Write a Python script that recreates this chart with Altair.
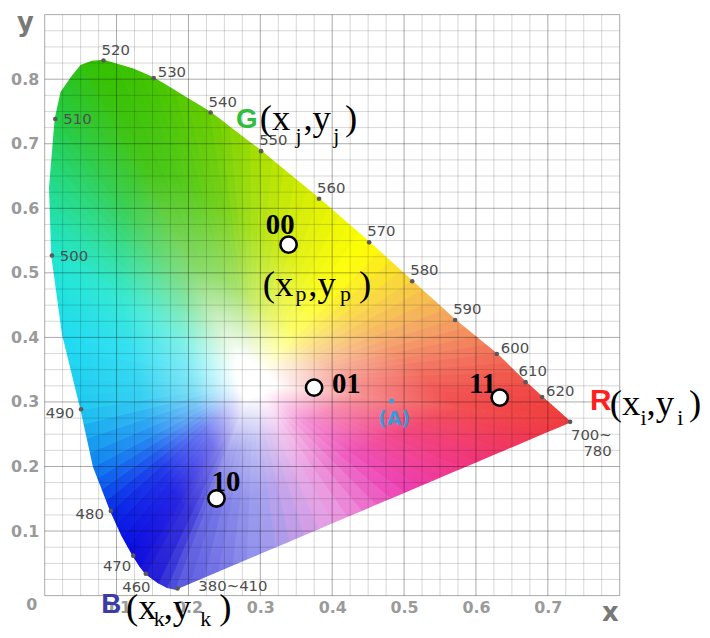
import math
import altair as alt
import pandas as pd

# ---------------- values ----------------
# labelled points on the spectral locus (wavelength, nm)
dot_label = ["380~410", "460", "470", "480", "490", "500", "510", "520", "530",
             "540", "550", "560", "570", "580", "590", "600", "610", "620", "700~\n780"]
dot_x = [0.1848, 0.1407, 0.1232, 0.0920, 0.0506, 0.0101, 0.0148, 0.0818, 0.1517,
         0.2308, 0.3011, 0.3817, 0.4514, 0.5113, 0.5710, 0.6290, 0.6690, 0.6920, 0.7310]
dot_y = [0.0112, 0.0338, 0.0619, 0.1310, 0.2887, 0.5268, 0.7383, 0.8289, 0.8017,
         0.7484, 0.6885, 0.6148, 0.5472, 0.4869, 0.4270, 0.3743, 0.3307, 0.3076, 0.2692]

# outline of the coloured region (spectral locus + purple line)
edge_x = [0.182, 0.170, 0.158, 0.1407, 0.133, 0.1232, 0.108, 0.092, 0.068, 0.0506,
          0.025, 0.0101, 0.007, 0.0148, 0.023, 0.039, 0.051, 0.066, 0.0818, 0.122,
          0.1517, 0.2308, 0.3011, 0.3817, 0.4514, 0.5113, 0.5710, 0.6290, 0.6690, 0.6920,
          0.705, 0.716, 0.726, 0.7310, 0.680, 0.600, 0.500, 0.400, 0.300]
edge_y = [0.010, 0.013, 0.020, 0.0338, 0.045, 0.0619, 0.092, 0.131, 0.200, 0.2887,
          0.405, 0.5268, 0.632, 0.7383, 0.780, 0.8055, 0.8215, 0.8275, 0.8289, 0.816,
          0.8017, 0.7484, 0.6885, 0.6148, 0.5472, 0.4869, 0.4270, 0.3743, 0.3307, 0.3076,
          0.295, 0.284, 0.274, 0.2692, 0.2451, 0.2073, 0.1601, 0.1129, 0.0657]
# colour seen along that outline (style)
edge_color = ["#5656e0", "#4040dc", "#2a24d8", "#1c18d8", "#1410dc", "#0c0ce0", "#0a14e4",
              "#0828e8", "#1080f0", "#20c8f0", "#20dcf0", "#20e6d0", "#22dc90", "#24cc48",
              "#28c630", "#2cc420", "#30c210", "#34c000", "#34c000", "#3cc200", "#44c400",
              "#68cc00", "#a8e000", "#e0f000", "#ffff00", "#f8d040", "#f4a060", "#f27058",
              "#f05048", "#f04444", "#f04040", "#f03e3e", "#f03c3c", "#f03c3c", "#f03850",
              "#f03478", "#ee40b4", "#eaa0e4", "#9898ee"]
white_x, white_y = 0.29, 0.33

# code points
code_label = ["00", "01", "10", "11"]
code_x = [0.3393, 0.3748, 0.2390, 0.6331]
code_y = [0.5437, 0.3221, 0.1505, 0.3067]

# illuminant A
illum_label = ["(A)"]
illum_x = [0.4828]
illum_y = [0.3015]

# coordinate annotations
anno_key = ["G", "P", "B", "R"]
anno_sub = ["j", "p", "k", "i"]
anno_x = [0.2993, 0.3034, 0.1131, 0.7862]
anno_y = [0.7216, 0.4639, -0.0369, 0.2802]

x_tick_values = [0.1, 0.2, 0.3, 0.4, 0.5, 0.6, 0.7]
y_tick_values = [0.1, 0.2, 0.3, 0.4, 0.5, 0.6, 0.7, 0.8]
major_x = [round(0.1 * i, 1) for i in range(9)]
major_y = [round(0.1 * i, 1) for i in range(10)]
minor_x = [round(0.025 * i, 3) for i in range(33) if i % 4]
minor_y = [round(0.025 * i, 3) for i in range(37) if i % 4]

# ---------------- helpers ----------------
X_SCALE = alt.Scale(domain=[0.0, 0.8], nice=False, zero=False)
Y_SCALE = alt.Scale(domain=[0.0, 0.9], nice=False, zero=False)

TICK_COLOR = "#9a9a9a"
AXIS_STYLE = dict(labelFont="DejaVu Sans", labelFontWeight="bold", labelFontSize=16,
                  labelColor=TICK_COLOR, ticks=False, domain=False, grid=False,
                  format=".1f", titleFont="DejaVu Sans", titleFontWeight="bold",
                  titleFontSize=26, titleColor="#787878", titleAlign="center",
                  titleBaseline="alphabetic", labelOverlap=False)
X_AXIS = alt.Axis(values=x_tick_values, labelPadding=4, labelAngle=0, title="x",
                  titleX=570, titleY=25, **AXIS_STYLE)
Y_AXIS = alt.Axis(values=y_tick_values, labelPadding=6, title="y", titleAngle=0,
                  titleX=-20, titleY=16, **AXIS_STYLE)


def X(field="x"):
    return alt.X(f"{field}:Q", scale=X_SCALE, axis=X_AXIS)


def Y(field="y"):
    return alt.Y(f"{field}:Q", scale=Y_SCALE, axis=Y_AXIS)


def rgb(h):
    h = h.lstrip("#")
    return [int(h[k:k + 2], 16) for k in (0, 2, 4)]


def hexc(c):
    return "#%02x%02x%02x" % tuple(max(0, min(255, int(round(v)))) for v in c)


def lerp_color(a, b, t):
    ca, cb = rgb(a), rgb(b)
    return hexc([ca[k] + (cb[k] - ca[k]) * t for k in range(3)])


def mix_white(c, t):
    return hexc([255 + (v - 255) * t for v in rgb(c)])


STOPS = [(0.0, 0.0), (0.08, 0.0), (0.35, 0.58), (0.65, 0.9), (1.0, 1.0)]


def tri_gradient(p0, p1, p2, color):
    xs = [p0[0], p1[0], p2[0]]
    ys = [p0[1], p1[1], p2[1]]
    xmin, xmax, ymin, ymax = min(xs), max(xs), min(ys), max(ys)

    def n(p):
        return ((p[0] - xmin) / (xmax - xmin), (ymax - p[1]) / (ymax - ymin))

    a, b, c = n(p0), n(p1), n(p2)
    dx, dy = c[0] - b[0], c[1] - b[1]
    t = ((a[0] - b[0]) * dx + (a[1] - b[1]) * dy) / (dx * dx + dy * dy)
    f = (b[0] + t * dx, b[1] + t * dy)
    return {
        "gradient": "linear",
        "x1": round(a[0], 4), "y1": round(a[1], 4),
        "x2": round(f[0], 4), "y2": round(f[1], 4),
        "stops": [{"offset": o, "color": mix_white(color, m)} for o, m in STOPS],
    }


layers = []

# ---------------- colour fill (fan of gradient triangles) ----------------
pts = []
n_edge = len(edge_x)
for i in range(n_edge):
    j = (i + 1) % n_edge
    x0, y0, x1, y1 = edge_x[i], edge_y[i], edge_x[j], edge_y[j]
    lpx = math.hypot((x1 - x0) * 725, (y1 - y0) * 651)
    nseg = max(1, math.ceil(lpx / 16))
    for s in range(nseg):
        t = s / nseg
        pts.append((x0 + (x1 - x0) * t, y0 + (y1 - y0) * t,
                    lerp_color(edge_color[i], edge_color[j], t)))

W = (white_x, white_y)
for k in range(len(pts)):
    p1 = pts[k]
    p2 = pts[(k + 1) % len(pts)]
    col = lerp_color(p1[2], p2[2], 0.5)
    g = tri_gradient(W, p1, p2, col)
    tri = pd.DataFrame({"x": [W[0], p1[0], p2[0]], "y": [W[1], p1[1], p2[1]], "i": [0, 1, 2]})
    layers.append(
        alt.Chart(tri).mark_line(fill=g, stroke=g, strokeWidth=1.4, strokeJoin="round")
        .encode(x=X(), y=Y(), order=alt.Order("i:Q"))
    )

# ---------------- grid ----------------
layers.append(alt.Chart(pd.DataFrame({"v": minor_x})).mark_rule(color="black", opacity=0.16, strokeWidth=1)
              .encode(x=X("v")))
layers.append(alt.Chart(pd.DataFrame({"v": minor_y})).mark_rule(color="black", opacity=0.16, strokeWidth=1)
              .encode(y=Y("v")))
layers.append(alt.Chart(pd.DataFrame({"v": major_x})).mark_rule(color="black", opacity=0.34, strokeWidth=1)
              .encode(x=X("v")))
layers.append(alt.Chart(pd.DataFrame({"v": major_y})).mark_rule(color="black", opacity=0.34, strokeWidth=1)
              .encode(y=Y("v")))

# origin label "0"
origin = pd.DataFrame({"x": [0.0], "y": [0.0], "t": ["0"]})
layers.append(alt.Chart(origin).mark_text(font="DejaVu Sans", fontWeight="bold", fontSize=16,
                                          color=TICK_COLOR, dx=-13, dy=10, baseline="middle")
              .encode(x=X(), y=Y(), text="t:N"))

# ---------------- wavelength dots and labels ----------------
dots = pd.DataFrame({"x": dot_x, "y": dot_y, "label": dot_label})
layers.append(alt.Chart(dots).mark_circle(size=22, color="#5a5a5a", opacity=1).encode(x=X(), y=Y()))

WL_TEXT = dict(font="DejaVu Sans", fontSize=15, color="#4e4e4e")
placements = [
    (["520", "540", "550", "560", "570", "580", "590"], dict(align="left", baseline="alphabetic", dx=-2, dy=-6)),
    (["610"], dict(align="left", baseline="alphabetic", dx=-7, dy=-6)),
    (["530", "600", "620"], dict(align="left", baseline="alphabetic", dx=4, dy=-1)),
    (["500", "510"], dict(align="left", baseline="alphabetic", dx=8, dy=5)),
    (["480", "490"], dict(align="right", baseline="alphabetic", dx=-7, dy=8.5)),
    (["470"], dict(align="right", baseline="alphabetic", dx=-2, dy=15)),
    (["460"], dict(align="center", baseline="alphabetic", dx=-9.5, dy=18)),
    (["380~410"], dict(align="left", baseline="alphabetic", dx=21, dy=2.3)),
    (["700~\n780"], dict(align="right", baseline="top", dx=42, dy=6.3, lineBreak="\n", lineHeight=16.6)),
]
for names, opts in placements:
    layers.append(
        alt.Chart(dots).transform_filter(alt.FieldOneOfPredicate(field="label", oneOf=names))
        .mark_text(**WL_TEXT, **opts).encode(x=X(), y=Y(), text="label:N")
    )

# ---------------- illuminant A ----------------
illum = pd.DataFrame({"x": illum_x, "y": illum_y, "label": illum_label})
layers.append(alt.Chart(illum).mark_circle(size=26, color="#3a9ee0", opacity=1).encode(x=X(), y=Y()))
layers.append(alt.Chart(illum).mark_text(font="DejaVu Sans", fontWeight="bold", fontSize=19,
                                         color="#3a9ad9", dx=2.5, dy=18, baseline="middle")
              .encode(x=X(), y=Y(), text="label:N"))

# ---------------- code points ----------------
codes = pd.DataFrame({"x": code_x, "y": code_y, "label": code_label})
layers.append(alt.Chart(codes).mark_point(shape="circle", filled=True, fill="white", stroke="black",
                                          strokeWidth=2.6, size=270, opacity=1)
              .encode(x=X(), y=Y()))
CODE_OFFSETS = {"00": (-23, -11), "01": (18, 5), "10": (-5, -8), "11": (-31, -5)}
for lab, (ddx, ddy) in CODE_OFFSETS.items():
    layers.append(
        alt.Chart(codes).transform_filter(alt.datum.label == lab)
        .mark_text(font="Liberation Serif", fontWeight="bold", fontSize=29, color="black",
                   align="left", baseline="alphabetic", dx=ddx, dy=ddy)
        .encode(x=X(), y=Y(), text="label:N")
    )

# ---------------- coordinate annotations ----------------
anno = pd.DataFrame({"x": anno_x, "y": anno_y, "key": anno_key, "sub": anno_sub})
ANNO_LAYOUT = {
    "G": dict(letter=("#2fbe3c", -24, -1.7, 28), sub_dy=13, pos=[0, 36, 44, 74, 86]),
    "P": dict(letter=None, sub_dy=5, pos=[0, 33, 46, 78, 97]),
    "B": dict(letter=("#3b3ba6", -25, -6, 28), sub_dy=7, pos=[0, 28, 38, 75, 94]),
    "R": dict(letter=("#ff1f1f", -20, -5, 30), sub_dy=10, pos=[0, 31, 37, 68, 80]),
}
SERIF = dict(font="Liberation Serif", color="black", align="left", baseline="alphabetic")
for key, lay in ANNO_LAYOUT.items():
    base = alt.Chart(anno).transform_filter(alt.datum.key == key)
    pos = lay["pos"]
    if lay["letter"] is not None:
        col, ldx, ldy, lsize = lay["letter"]
        layers.append(base.mark_text(font="Liberation Sans", fontWeight="bold", fontSize=lsize,
                                     color=col, align="left", baseline="alphabetic", dx=ldx, dy=ldy)
                      .encode(x=X(), y=Y(), text="key:N"))
    for txt, ddx in (("(x", pos[0]), (",y", pos[2]), (")", pos[4])):
        layers.append(base.mark_text(fontSize=37, dx=ddx, dy=0, text=txt, **SERIF)
                      .encode(x=X(), y=Y()))
    for ddx in (pos[1], pos[3]):
        layers.append(base.mark_text(fontSize=22, dx=ddx, dy=lay["sub_dy"], **SERIF)
                      .encode(x=X(), y=Y(), text="sub:N"))

chart = (
    alt.layer(*layers)
    .properties(width=580, height=586,
                padding={"left": 37, "top": 4, "right": 83, "bottom": 32},
                autosize=alt.AutoSizeParams(type="none"))
    .configure_view(strokeWidth=0)
)

chart.save("out.html", embed_options={"renderer": "svg", "actions": False})
